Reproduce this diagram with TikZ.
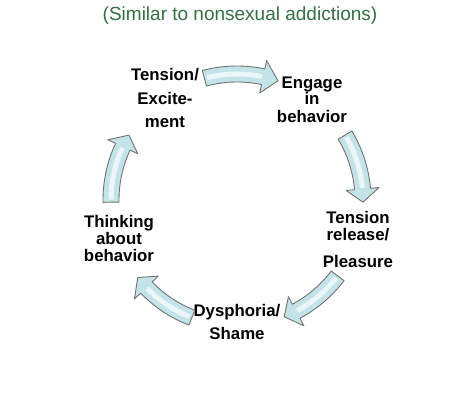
\documentclass[tikz,border=0pt]{standalone}
\usepackage{fontspec}
\setmainfont{Liberation Sans}
\usetikzlibrary{calc}
\definecolor{titlegreen}{RGB}{52,112,66}
\definecolor{arrowfill}{RGB}{194,227,232}
\definecolor{arrowhi}{RGB}{234,246,247}
\definecolor{arrowline}{RGB}{115,115,115}
\tikzset{
  blockarrow/.style={fill=arrowfill, draw=arrowline, line width=0.9pt, line join=round},
  arrowhl/.style={draw=arrowhi, line width=5pt},
  lbl/.style={font=\bfseries\fontsize{16.8}{18}\selectfont, anchor=base, inner sep=0pt, text=black},
  ttl/.style={font=\fontsize{19}{22}\selectfont, anchor=base, inner sep=0pt, text=titlegreen}
}
\newcommand\cyclearrow[3]{%
  \filldraw[blockarrow] (#1:134pt) arc[start angle=#1,end angle=#2,radius=134pt]
    -- (#2:142.5pt) -- (#3:126pt) -- (#2:109.5pt) -- (#2:118pt)
    arc[start angle=#2,end angle=#1,radius=118pt] -- cycle;
  \draw[arrowhl] (#1-1.2:126pt) arc[start angle=#1-1.2,end angle=#2+0.5,radius=126pt];
}
\begin{document}
\begin{tikzpicture}[x=1pt,y=1pt]
\fill[white] (0,0) rectangle (474,406);
\useasboundingbox (0,0) rectangle (474,406);

\node[ttl] (title) at (240,385) {(Similar to nonsexual addictions)};

% labels
\node[lbl] (tenA) at (165,325) {Tension/};
\node[lbl] (tenB) at (165,301) {Excite-};
\node[lbl] (tenC) at (165,278) {ment};

\node[lbl] (engA) at (312,317) {Engage};
\node[lbl] (engB) at (312,301) {in};
\node[lbl] (engC) at (312,283) {behavior};

\node[lbl] (relA) at (358,182) {Tension};
\node[lbl] (relB) at (358,165) {release/};
\node[lbl] (relC) at (358,138) {Pleasure};

\node[lbl] (dysA) at (237,89) {Dysphoria/};
\node[lbl] (dysB) at (237,66) {Shame};

\node[lbl] (thiA) at (119,178) {Thinking};
\node[lbl] (thiB) at (119,161) {about};
\node[lbl] (thiC) at (119,144) {behavior};

% cycle arrows
\begin{scope}[shift={(237,206)}]
  \cyclearrow{105}{78}{71}
  \cyclearrow{31}{5}{-1}
  \cyclearrow{-37}{-62}{-68}
  \cyclearrow{-111}{-136}{-142}
  \cyclearrow{181}{155}{149}
\end{scope}
\end{tikzpicture}
\end{document}
